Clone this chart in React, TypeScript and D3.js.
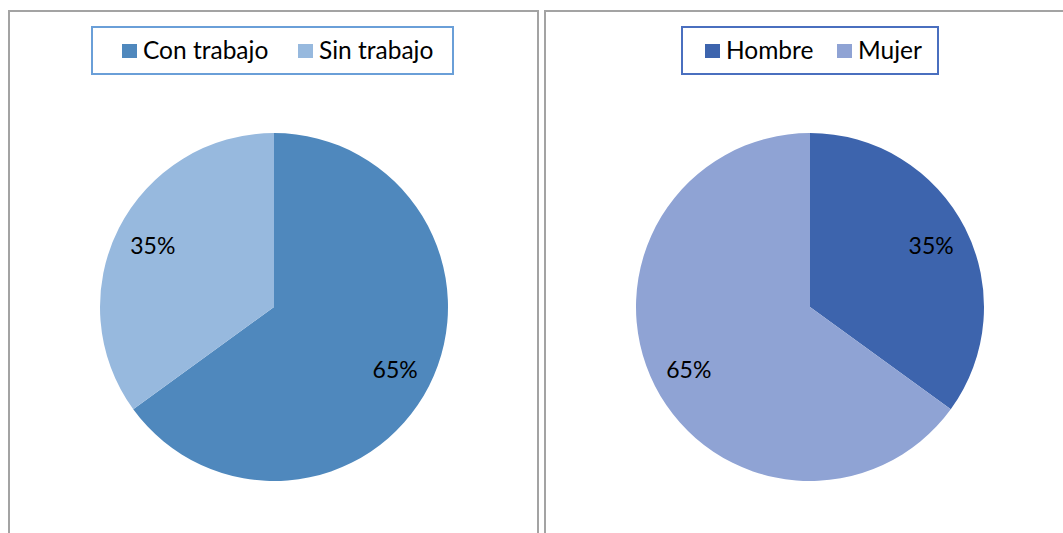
import React from 'react';
import * as d3 from 'd3';

// left chart
const trabajoCats = ['Con trabajo', 'Sin trabajo'];
const trabajoVals = [65, 35];
const trabajoColors = ['#4f88bd', '#97b9de'];

// right chart
const sexoCats = ['Hombre', 'Mujer'];
const sexoVals = [35, 65];
const sexoColors = ['#3d64ad', '#8fa3d4'];

const FONT = 'Lato, "Open Sans", sans-serif';

type PanelProps = {
  x: number;
  w: number;
  cats: string[];
  vals: number[];
  colors: string[];
  legendX: number;
  legendW: number;
  legendStroke: string;
  itemX: number[];
};

const Panel = ({ x, w, cats, vals, colors, legendX, legendW, legendStroke, itemX }: PanelProps) => {
  const cx = x + 265;
  const cy = 307;
  const r = 174;
  const pie = d3.pie<number>().sort(null).value((d) => d);
  const arcs = pie(vals);
  const arc = d3.arc<d3.PieArcDatum<number>>().innerRadius(0).outerRadius(r);
  const labelArc = d3.arc<d3.PieArcDatum<number>>().innerRadius(136).outerRadius(136);
  const total = d3.sum(vals);

  return (
    <g>
      {/* panel frame, open at the bottom */}
      <path
        d={`M${x},540 L${x},11 L${x + w},11 L${x + w},540`}
        fill="#fff"
        stroke="#a3a3a3"
        strokeWidth={2}
      />
      <rect x={legendX} y={27} width={legendW} height={47} fill="#fff" stroke={legendStroke} strokeWidth={2} />
      {cats.map((c, i) => (
        <g key={c}>
          <rect x={itemX[i]} y={44} width={15} height={14} fill={colors[i]} />
          <text x={itemX[i] + 21} y={59} fontFamily={FONT} fontSize={24.5} fill="#000">
            {c}
          </text>
        </g>
      ))}
      <g transform={`translate(${cx},${cy})`}>
        {arcs.map((a, i) => (
          <path key={i} d={arc(a) || ''} fill={colors[i]} />
        ))}
        {arcs.map((a, i) => {
          const [lx, ly] = labelArc.centroid(a);
          return (
            <text
              key={'l' + i}
              x={lx}
              y={ly}
              dy="0.4em"
              textAnchor="middle"
              fontFamily={FONT}
              fontSize={23}
              fill="#000"
            >
              {d3.format('.0%')(a.data / total)}
            </text>
          );
        })}
      </g>
    </g>
  );
};

export default function App() {
  return (
    <svg width={1063} height={533} style={{ position: 'absolute', left: 0, top: 0, background: '#fff' }}>
      <rect width={1063} height={533} fill="#fff" />
      <Panel
        x={9}
        w={529}
        cats={trabajoCats}
        vals={trabajoVals}
        colors={trabajoColors}
        legendX={92}
        legendW={361}
        legendStroke="#6a9fd8"
        itemX={[122, 298]}
      />
      <Panel
        x={545}
        w={530}
        cats={sexoCats}
        vals={sexoVals}
        colors={sexoColors}
        legendX={682}
        legendW={256}
        legendStroke="#4a6fbf"
        itemX={[705, 837]}
      />
    </svg>
  );
}
